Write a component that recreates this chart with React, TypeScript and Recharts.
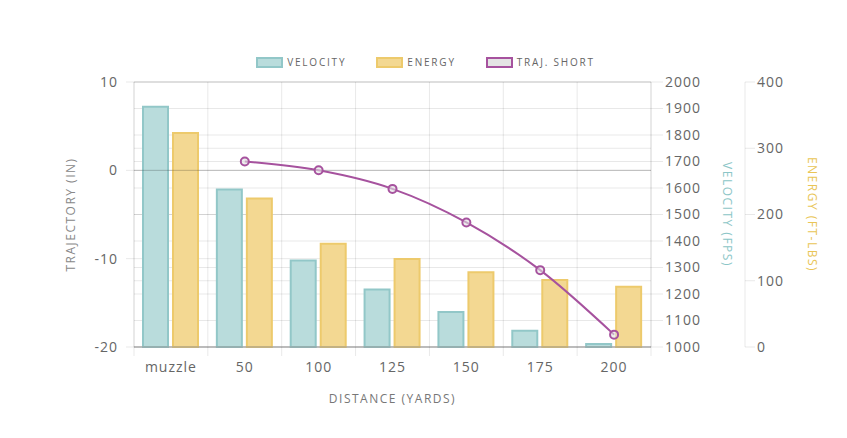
import React from "react";
import {
  ComposedChart,
  Bar,
  Line,
  XAxis,
  YAxis,
  CartesianGrid,
  Legend,
  ReferenceLine,
} from "recharts";

const categories = ["muzzle", "50", "100", "125", "150", "175", "200"];
const velocity = [1907, 1594, 1326, 1217, 1132, 1061, 1011];
const energy = [323, 224, 156, 133, 113, 101, 91];
const trajShort = [null, 1.0, 0, -2.1, -5.9, -11.3, -18.6];

const trajTicks = [-20, -10, 0, 10];
const velocityTicks = [1000, 1100, 1200, 1300, 1400, 1500, 1600, 1700, 1800, 1900, 2000];
const energyTicks = [0, 100, 200, 300, 400];

const data = categories.map((distance, i) => ({
  distance,
  velocity: velocity[i],
  energy: energy[i],
  traj: trajShort[i],
}));

// right axes are laid out by id, so the velocity axis (nearest the plot) sorts first
const VEL_AXIS = "r1";
const EN_AXIS = "r2";

const FONT = "'Open Sans', 'DejaVu Sans', sans-serif";
const GRID = "rgba(0,0,0,0.09)";
const VEL_FILL = "#b9dcdc";
const VEL_LINE = "#92c7c8";
const EN_FILL = "#f3d892";
const EN_LINE = "#edca6c";
const TRAJ = "#a6529e";

const tickStyle = { fill: "#666", fontSize: 14, fontFamily: FONT, letterSpacing: 1 };

const DistanceTick = (props: any) => {
  const { x, y, payload, index, visibleTicksCount, width } = props;
  const count = visibleTicksCount || categories.length;
  const band = (width || 517) / count;
  return (
    <g>
      <line x1={x - band / 2} x2={x - band / 2} y1={y} y2={y + 9} stroke={GRID} />
      {index === count - 1 && (
        <line x1={x + band / 2} x2={x + band / 2} y1={y} y2={y + 9} stroke={GRID} />
      )}
      <text
        x={x}
        y={y + 19}
        textAnchor="middle"
        dominantBaseline="central"
        {...tickStyle}
      >
        {payload.value}
      </text>
    </g>
  );
};

const axisTitle = (value: string, color: string, dx: number, angle: number) => (props: any) => {
  const { x, y, height } = props.viewBox;
  const cx = x + dx;
  const cy = y + height / 2;
  return (
    <text
      x={cx}
      y={cy}
      transform={`rotate(${angle}, ${cx}, ${cy})`}
      textAnchor="middle"
      dominantBaseline="central"
      fill={color}
      fontSize={12}
      fontFamily={FONT}
      letterSpacing={1.5}
    >
      {value}
    </text>
  );
};

const xTitle = (props: any) => {
  const { x, y, width } = props.viewBox;
  return (
    <text
      x={x + width / 2}
      y={y + 51}
      textAnchor="middle"
      dominantBaseline="central"
      fill="#777"
      fontSize={12}
      fontFamily={FONT}
      letterSpacing={1.5}
    >
      DISTANCE (YARDS)
    </text>
  );
};

const legendItems = [
  { label: "VELOCITY", fill: VEL_FILL, stroke: VEL_LINE },
  { label: "ENERGY", fill: EN_FILL, stroke: EN_LINE },
  { label: "TRAJ. SHORT", fill: "#e4e4e4", stroke: TRAJ },
];

const renderLegend = () => (
  <div
    style={{
      display: "flex",
      justifyContent: "center",
      paddingTop: 2,
      paddingRight: 4,
      fontFamily: FONT,
      fontSize: 10,
      letterSpacing: 1.8,
      color: "#666",
    }}
  >
    {legendItems.map((item, i) => (
      <div
        key={item.label}
        style={{ display: "flex", alignItems: "center", marginLeft: i ? 30 : 0, height: 16 }}
      >
        <span
          style={{
            display: "inline-block",
            width: 23,
            height: 7,
            background: item.fill,
            border: `2px solid ${item.stroke}`,
            marginRight: 4,
          }}
        />
        <span>{item.label}</span>
      </div>
    ))}
  </div>
);

export default function App() {
  return (
    <ComposedChart
      width={839}
      height={430}
      data={data}
      margin={{ top: 44, right: 12, bottom: 41, left: 20 }}
      barSize={25}
      barGap={5}
    >
      <CartesianGrid yAxisId={VEL_AXIS} stroke={GRID} vertical={false} />
      <CartesianGrid yAxisId={EN_AXIS} stroke={GRID} vertical={false} />
      <CartesianGrid
        yAxisId="traj"
        stroke={GRID}
        verticalCoordinatesGenerator={({ offset }: any) =>
          Array.from({ length: categories.length + 1 }, (_, i) =>
            offset.left + (i * offset.width) / categories.length
          )
        }
      />
      <Legend
        verticalAlign="top"
        height={30}
        content={renderLegend}
        wrapperStyle={{ left: 0, width: 839 }}
      />
      <XAxis
        dataKey="distance"
        interval={0}
        height={50}
        tickSize={0}
        tickMargin={0}
        axisLine={{ stroke: "#999" }}
        tickLine={false}
        tick={<DistanceTick />}
        label={{ content: xTitle }}
      />
      <YAxis
        yAxisId="traj"
        orientation="left"
        width={106}
        domain={[-20, 10]}
        ticks={trajTicks}
        interval={0}
        tick={tickStyle}
        tickSize={8}
        tickMargin={8}
        tickLine={{ stroke: GRID }}
        axisLine={{ stroke: GRID }}
        label={{ content: axisTitle("TRAJECTORY (IN)", "#888", 42, -90) }}
      />
      <YAxis
        yAxisId={VEL_AXIS}
        orientation="right"
        width={94}
        domain={[1000, 2000]}
        ticks={velocityTicks}
        interval={0}
        tick={tickStyle}
        tickSize={12}
        tickMargin={2}
        tickLine={{ stroke: GRID }}
        axisLine={{ stroke: GRID }}
        label={{ content: axisTitle("VELOCITY (FPS)", "#8cc6c7", 76, 90) }}
      />
      <YAxis
        yAxisId={EN_AXIS}
        orientation="right"
        width={90}
        domain={[0, 400]}
        ticks={energyTicks}
        interval={0}
        tick={tickStyle}
        tickSize={10}
        tickMargin={2}
        tickLine={{ stroke: GRID }}
        axisLine={{ stroke: GRID }}
        label={{ content: axisTitle("ENERGY (FT-LBS)", "#e9c556", 67, 90) }}
      />
      <ReferenceLine yAxisId="traj" y={0} stroke="rgba(0,0,0,0.22)" />
      <Bar
        yAxisId={VEL_AXIS}
        dataKey="velocity"
        fill={VEL_FILL}
        stroke={VEL_LINE}
        strokeWidth={2}
        isAnimationActive={false}
      />
      <Bar
        yAxisId={EN_AXIS}
        dataKey="energy"
        fill={EN_FILL}
        stroke={EN_LINE}
        strokeWidth={2}
        isAnimationActive={false}
      />
      <Line
        yAxisId="traj"
        dataKey="traj"
        type="monotone"
        stroke={TRAJ}
        strokeWidth={2}
        dot={{ r: 4, stroke: TRAJ, strokeWidth: 2, fill: "rgba(225,225,225,0.6)" }}
        isAnimationActive={false}
      />
    </ComposedChart>
  );
}
